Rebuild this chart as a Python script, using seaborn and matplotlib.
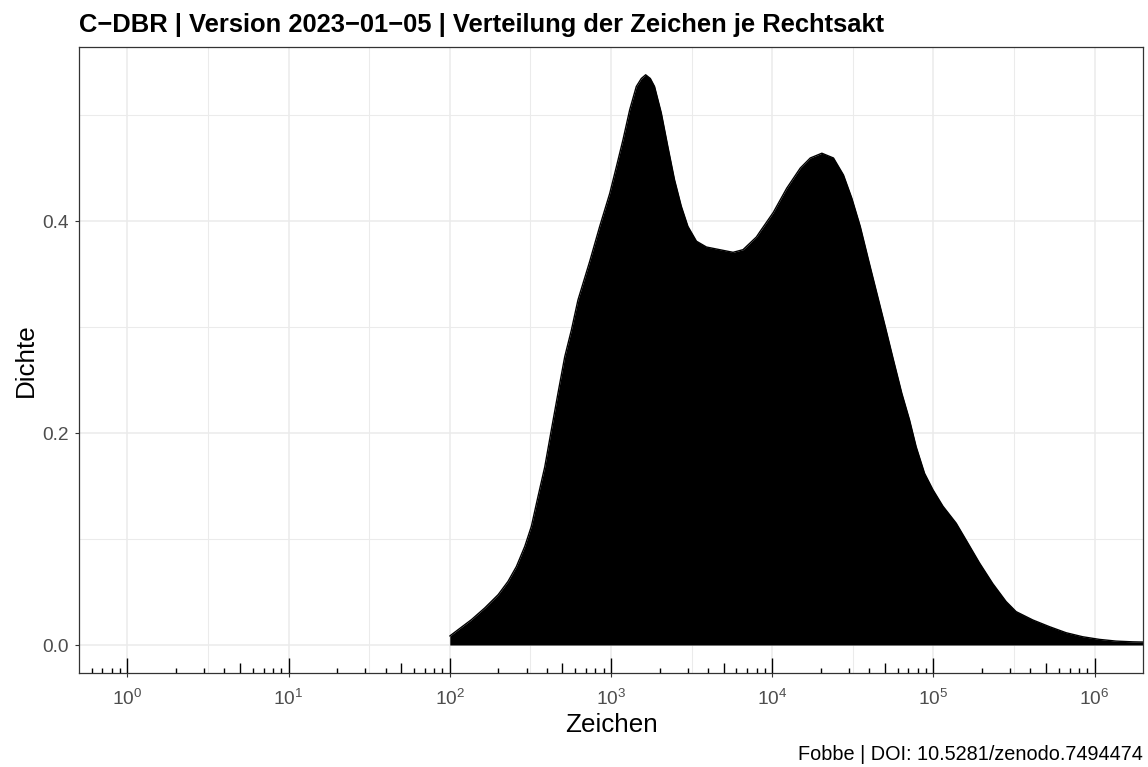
import numpy as np
import pandas as pd
import matplotlib
matplotlib.use("Agg")
import matplotlib.pyplot as plt
import seaborn as sns

# ---- data ----
zeichen_log10 = [2.000, 2.051, 2.134, 2.217, 2.300, 2.361, 2.413, 2.465, 2.506, 2.547,
                 2.589, 2.630, 2.671, 2.713, 2.754, 2.795, 2.868, 2.930, 2.992, 3.033,
                 3.074, 3.116, 3.157, 3.188, 3.215, 3.244, 3.270, 3.312, 3.353, 3.394,
                 3.436, 3.477, 3.530, 3.592, 3.674, 3.757, 3.819, 3.902, 3.924, 4.006,
                 4.090, 4.174, 4.236, 4.308, 4.380, 4.442, 4.494, 4.546, 4.597, 4.649,
                 4.701, 4.752, 4.804, 4.852, 4.893, 4.945, 4.997, 5.059, 5.141, 5.203,
                 5.286, 5.368, 5.451, 5.513, 5.617, 5.720, 5.823, 5.926, 6.030, 6.133,
                 6.236, 6.300]
dichte = [0.0085, 0.0144, 0.0239, 0.0350, 0.0475, 0.0600, 0.0740, 0.0930, 0.1120, 0.1400,
          0.1680, 0.2030, 0.2375, 0.2720, 0.2970, 0.3255, 0.3620, 0.3950, 0.4260, 0.4510,
          0.4765, 0.5050, 0.5270, 0.5345, 0.5380, 0.5345, 0.5270, 0.5020, 0.4700, 0.4390,
          0.4140, 0.3950, 0.3810, 0.3755, 0.3730, 0.3705, 0.3730, 0.3850, 0.3900, 0.4080,
          0.4310, 0.4500, 0.4595, 0.4640, 0.4595, 0.4435, 0.4215, 0.3950, 0.3635, 0.3320,
          0.3005, 0.2690, 0.2375, 0.2123, 0.1870, 0.1620, 0.1465, 0.1310, 0.1150, 0.0990,
          0.0774, 0.0580, 0.0410, 0.0315, 0.0236, 0.0173, 0.0116, 0.0078, 0.0053, 0.0037,
          0.0030, 0.0028]

x_tick_exponents = [0, 1, 2, 3, 4, 5, 6]
y_ticks = [0.0, 0.2, 0.4]
y_tick_labels = ["0.0", "0.2", "0.4"]
y_minor_ticks = [0.1, 0.3, 0.5]

title = "C\u2212DBR | Version 2023\u221201\u221205 | Verteilung der Zeichen je Rechtsakt"
caption = "Fobbe | DOI: 10.5281/zenodo.7494474"
x_label = "Zeichen"
y_label = "Dichte"

# ---- style ----
sns.set_theme(style="white")
plt.rcParams["font.family"] = ["Liberation Sans", "DejaVu Sans"]
plt.rcParams["mathtext.fontset"] = "custom"
plt.rcParams["mathtext.rm"] = "Liberation Sans"
plt.rcParams["mathtext.it"] = "Liberation Sans:italic"
plt.rcParams["mathtext.bf"] = "Liberation Sans:bold"

DARK = "#333333"
TXT = "#4D4D4D"
GRID = "#EBEBEB"

W_PX, H_PX = 1148, 767
left, right, top, bottom = 79, 1143, 46.7, 673
fig = plt.figure(figsize=(W_PX / 100, H_PX / 100), dpi=100)
ax = fig.add_axes([left / W_PX, 1 - bottom / H_PX, (right - left) / W_PX, (bottom - top) / H_PX])

df = pd.DataFrame({"Zeichen": 10 ** np.array(zeichen_log10), "Dichte": dichte})

ax.set_xscale("log")
ax.set_axisbelow(True)
ax.fill_between(df["Zeichen"], 0, df["Dichte"], color="black", lw=0, zorder=2)
sns.lineplot(data=df, x="Zeichen", y="Dichte", color="black", lw=1.0, ax=ax,
             sort=False, zorder=3)

# ticks and grid
ax.set_xticks([10.0 ** k for k in x_tick_exponents],
              [r"$\mathregular{10^{%d}}$" % k for k in x_tick_exponents])
ax.set_xticks([10.0 ** (k + 0.5) for k in range(0, 6)], minor=True)
ax.set_yticks(y_ticks, y_tick_labels)
ax.set_yticks(y_minor_ticks, minor=True)
ax.set_xlim(10 ** -0.3, 10 ** 6.3)
ax.set_ylim(-0.0264, 0.5645)

ax.grid(which="major", color=GRID, lw=1.1)
ax.grid(which="minor", color=GRID, lw=0.75)
ax.tick_params(axis="both", which="major", bottom=True, left=True, direction="out",
               length=3.2, width=0.8, color=DARK, labelcolor=TXT, labelsize=13.8)
ax.tick_params(axis="x", which="major", pad=8.0)
ax.tick_params(axis="y", which="major", pad=4.0)
ax.tick_params(axis="both", which="minor", length=0)
for s in ax.spines.values():
    s.set_visible(True)
    s.set_color(DARK)
    s.set_linewidth(0.9)

# log ticks inside the panel (annotation_logticks style)
panel_h = bottom - top
pos, lens = [], []
for k in range(-1, 7):
    for m in range(1, 10):
        v = m * 10.0 ** k
        if 10 ** -0.3 <= v <= 10 ** 6.3 * 0.999:
            pos.append(v)
            lens.append((15 if m == 1 else (10 if m == 5 else 5)) / panel_h)
ax.vlines(pos, 0, lens, transform=ax.get_xaxis_transform(), color="black",
          lw=1.0, zorder=4)

# labels
ax.set_xlabel(x_label, fontsize=18.7, color="black")
ax.xaxis.label.set_va("baseline")
ax.xaxis.set_label_coords(0.5, (bottom - 731.7) / panel_h)
ax.set_ylabel(y_label, fontsize=18.7, color="black")
ax.yaxis.label.set_va("baseline")
ax.yaxis.set_label_coords((33.3 - left) / (right - left), 0.5)

fig.text(left / W_PX, 1 - 31.7 / H_PX, title, fontsize=18.4, fontweight="bold",
         ha="left", va="baseline", color="black")
fig.text(right / W_PX, 1 - 760 / H_PX, caption, fontsize=14.3,
         ha="right", va="baseline", color="black")

fig.savefig("out.png", dpi=100)
